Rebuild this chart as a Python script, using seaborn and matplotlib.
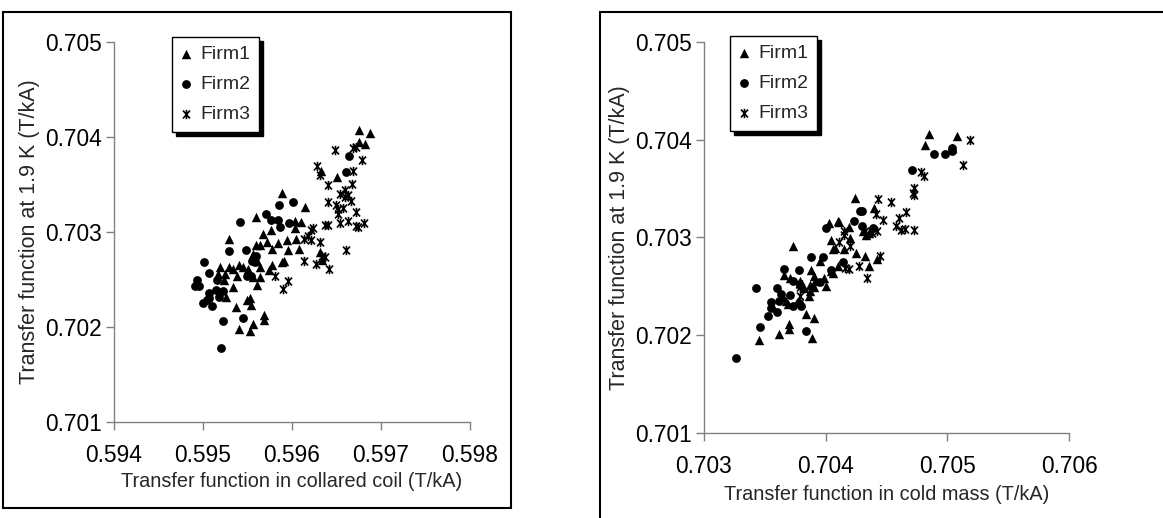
import matplotlib
matplotlib.use('Agg')
import matplotlib.pyplot as plt
from matplotlib.path import Path
from matplotlib.patches import Rectangle
import seaborn as sns
import pandas as pd

sns.set_theme(style="white")
plt.rcParams['font.family'] = ['Liberation Sans', 'DejaVu Sans']

# ==========================================
# 데이터 (왼쪽: collared coil, 오른쪽: cold mass)
# ==========================================
coil_f1_x = [0.59675, 0.59688, 0.59682, 0.59675, 0.59633, 0.59650, 0.59589, 0.59615, 0.59559, 0.59529,
             0.59567, 0.59576, 0.59572, 0.59560, 0.59564, 0.59577, 0.59584, 0.59594, 0.59603, 0.59610,
             0.59603, 0.59605, 0.59608, 0.59596, 0.59591, 0.59589, 0.59577, 0.59574, 0.59564, 0.59561,
             0.59556, 0.59564, 0.59561, 0.59556, 0.59551, 0.59545, 0.59540, 0.59538, 0.59534, 0.59529,
             0.59525, 0.59524, 0.59519, 0.59517, 0.59534, 0.59526, 0.59537, 0.59549, 0.59554, 0.59553,
             0.59569, 0.59569, 0.59556, 0.59553, 0.59540, 0.59631, 0.59634]
coil_f1_y = [0.70407, 0.70404, 0.70393, 0.70395, 0.70364, 0.70358, 0.70341, 0.70326, 0.70316, 0.70293,
             0.70298, 0.70302, 0.70290, 0.70286, 0.70286, 0.70282, 0.70288, 0.70292, 0.70304, 0.70311,
             0.70312, 0.70293, 0.70282, 0.70281, 0.70270, 0.70268, 0.70265, 0.70260, 0.70263, 0.70270,
             0.70277, 0.70253, 0.70244, 0.70253, 0.70261, 0.70263, 0.70265, 0.70254, 0.70261, 0.70263,
             0.70256, 0.70250, 0.70263, 0.70256, 0.70242, 0.70232, 0.70221, 0.70228, 0.70223, 0.70231,
             0.70213, 0.70207, 0.70203, 0.70196, 0.70198, 0.70279, 0.70271]

coil_f2_x = [0.59664, 0.59661, 0.59601, 0.59585, 0.59597, 0.59571, 0.59576, 0.59584, 0.59542, 0.59587,
             0.59529, 0.59548, 0.59555, 0.59559, 0.59558, 0.59549, 0.59554, 0.59501, 0.59507, 0.59516,
             0.59493, 0.59491, 0.59496, 0.59507, 0.59515, 0.59518, 0.59507, 0.59500, 0.59510, 0.59522,
             0.59545, 0.59522, 0.59520, 0.59504]
coil_f2_y = [0.70380, 0.70363, 0.70332, 0.70328, 0.70309, 0.70319, 0.70313, 0.70313, 0.70311, 0.70305,
             0.70280, 0.70281, 0.70269, 0.70275, 0.70268, 0.70254, 0.70254, 0.70268, 0.70257, 0.70249,
             0.70249, 0.70243, 0.70243, 0.70236, 0.70239, 0.70232, 0.70231, 0.70225, 0.70222, 0.70238,
             0.70210, 0.70206, 0.70178, 0.70228]

coil_f3_x = [0.59648, 0.59628, 0.59632, 0.59679, 0.59669, 0.59672, 0.59669, 0.59667, 0.59640, 0.59640,
             0.59654, 0.59660, 0.59660, 0.59649, 0.59652, 0.59657, 0.59652, 0.59654, 0.59663, 0.59672,
             0.59672, 0.59674, 0.59681, 0.59661, 0.59637, 0.59640, 0.59624, 0.59618, 0.59614, 0.59621,
             0.59631, 0.59637, 0.59634, 0.59627, 0.59642, 0.59613, 0.59581, 0.59595, 0.59590, 0.59621,
             0.59666, 0.59663]
coil_f3_y = [0.70386, 0.70369, 0.70360, 0.70376, 0.70388, 0.70390, 0.70364, 0.70351, 0.70349, 0.70332,
             0.70340, 0.70344, 0.70337, 0.70328, 0.70324, 0.70325, 0.70319, 0.70309, 0.70312, 0.70321,
             0.70306, 0.70305, 0.70309, 0.70281, 0.70307, 0.70307, 0.70304, 0.70296, 0.70293, 0.70292,
             0.70289, 0.70274, 0.70275, 0.70266, 0.70261, 0.70270, 0.70254, 0.70248, 0.70240, 0.70302,
             0.70333, 0.70339]

mass_f1_x = [0.70485, 0.70508, 0.70482, 0.70504, 0.70424, 0.70440, 0.70436, 0.70433, 0.70431, 0.70403,
             0.70410, 0.70411, 0.70419, 0.70420, 0.70404, 0.70406, 0.70415, 0.70425, 0.70432, 0.70436,
             0.70442, 0.70373, 0.70410, 0.70406, 0.70404, 0.70395, 0.70388, 0.70390, 0.70399, 0.70400,
             0.70391, 0.70390, 0.70387, 0.70386, 0.70382, 0.70379, 0.70371, 0.70366, 0.70369, 0.70367,
             0.70384, 0.70390, 0.70362, 0.70370, 0.70370, 0.70345, 0.70389, 0.70387, 0.70408, 0.70365]
mass_f1_y = [0.70406, 0.70404, 0.70395, 0.70392, 0.70340, 0.70330, 0.70305, 0.70303, 0.70307, 0.70315,
             0.70317, 0.70316, 0.70311, 0.70299, 0.70297, 0.70288, 0.70288, 0.70284, 0.70281, 0.70271,
             0.70278, 0.70291, 0.70271, 0.70264, 0.70266, 0.70276, 0.70267, 0.70261, 0.70259, 0.70250,
             0.70256, 0.70249, 0.70245, 0.70240, 0.70248, 0.70255, 0.70259, 0.70262, 0.70232, 0.70235,
             0.70222, 0.70218, 0.70201, 0.70206, 0.70212, 0.70195, 0.70197, 0.70251, 0.70289, 0.70239]

mass_f2_x = [0.70471, 0.70489, 0.70498, 0.70504, 0.70504, 0.70428, 0.70430, 0.70423, 0.70430, 0.70439,
             0.70400, 0.70414, 0.70388, 0.70398, 0.70366, 0.70378, 0.70373, 0.70379, 0.70343, 0.70360,
             0.70363, 0.70355, 0.70355, 0.70353, 0.70360, 0.70362, 0.70371, 0.70378, 0.70373, 0.70380,
             0.70346, 0.70384, 0.70326, 0.70395, 0.70404]
mass_f2_y = [0.70369, 0.70385, 0.70385, 0.70389, 0.70392, 0.70327, 0.70327, 0.70317, 0.70312, 0.70310,
             0.70310, 0.70275, 0.70280, 0.70280, 0.70268, 0.70267, 0.70256, 0.70251, 0.70248, 0.70248,
             0.70242, 0.70234, 0.70228, 0.70220, 0.70224, 0.70235, 0.70241, 0.70233, 0.70230, 0.70230,
             0.70208, 0.70204, 0.70177, 0.70254, 0.70267]

mass_f3_x = [0.70519, 0.70513, 0.70478, 0.70481, 0.70473, 0.70473, 0.70472, 0.70454, 0.70466, 0.70460,
             0.70443, 0.70441, 0.70447, 0.70458, 0.70462, 0.70465, 0.70473, 0.70438, 0.70434, 0.70427,
             0.70419, 0.70416, 0.70445, 0.70415, 0.70415, 0.70411, 0.70420, 0.70379, 0.70379, 0.70378,
             0.70432, 0.70433, 0.70442]
mass_f3_y = [0.70400, 0.70374, 0.70367, 0.70363, 0.70351, 0.70343, 0.70346, 0.70336, 0.70326, 0.70320,
             0.70339, 0.70324, 0.70318, 0.70312, 0.70308, 0.70309, 0.70308, 0.70305, 0.70259, 0.70271,
             0.70268, 0.70269, 0.70281, 0.70303, 0.70307, 0.70295, 0.70291, 0.70240, 0.70249, 0.70252,
             0.70307, 0.70303, 0.70307]

firms = ['Firm1', 'Firm2', 'Firm3']
coil_xticks = [0.594, 0.595, 0.596, 0.597, 0.598]
mass_xticks = [0.703, 0.704, 0.705, 0.706]
yticks = [0.701, 0.702, 0.703, 0.704, 0.705]

# 엑셀 스타일 별표 마커 (X + 세로선)
star = Path([(-0.75, -0.85), (0.75, 0.85), (-0.75, 0.85), (0.75, -0.85), (0, -1), (0, 1)],
            [Path.MOVETO, Path.LINETO, Path.MOVETO, Path.LINETO, Path.MOVETO, Path.LINETO])
markers = {'Firm1': '^', 'Firm2': 'o', 'Firm3': star}
sizes = {'Firm1': 46, 'Firm2': 40, 'Firm3': 45}

fig = plt.figure(figsize=(11.63, 5.18), dpi=100)
ax1 = fig.add_axes([114/1163, 1-422/518, 356/1163, 380/518])
ax2 = fig.add_axes([704/1163, 1-433/518, 365/1163, 391/518])

panels = [
    (ax1, [(coil_f1_x, coil_f1_y), (coil_f2_x, coil_f2_y), (coil_f3_x, coil_f3_y)],
     coil_xticks, 'Transfer function in collared coil (T/kA)', (0.163, 1.013), 3.5),
    (ax2, [(mass_f1_x, mass_f1_y), (mass_f2_x, mass_f2_y), (mass_f3_x, mass_f3_y)],
     mass_xticks, 'Transfer function in cold mass (T/kA)', (0.071, 1.015), 5),
]

for ax, series, xt, xlabel, anchor, xpad in panels:
    for firm, (xs, ys) in zip(firms, series):
        df = pd.DataFrame({'x': xs, 'y': ys})
        sns.scatterplot(data=df, x='x', y='y', ax=ax, marker=markers[firm], s=sizes[firm],
                        color='black', edgecolor='black', linewidth=1.2 if firm == 'Firm3' else 0,
                        label=firm)
    ax.set_xlim(xt[0], xt[-1])
    ax.set_ylim(0.701, 0.705)
    ax.set_xticks(xt)
    ax.set_yticks(yticks)
    ax.set_xticklabels([f'{v:.3f}' for v in xt])
    ax.set_yticklabels([f'{v:.3f}' for v in yticks])
    ax.tick_params(bottom=True, left=True, direction='out', length=6, width=1, color='#808080',
                   labelsize=16.4, labelcolor='black')
    ax.tick_params(axis='x', pad=10)
    ax.tick_params(axis='y', pad=3)
    for s in ['top', 'right']:
        ax.spines[s].set_visible(False)
    for s in ['left', 'bottom']:
        ax.spines[s].set_color('#808080')
        ax.spines[s].set_linewidth(1)
    ax.set_xlabel(xlabel, fontsize=14.3, labelpad=xpad)
    ax.set_ylabel('Transfer function at 1.9 K (T/kA)', fontsize=15.5, labelpad=3.5)
    leg = ax.legend(loc='upper left', bbox_to_anchor=anchor, borderaxespad=0, fontsize=14,
                    fancybox=False, framealpha=1, edgecolor='black', handlelength=0.5,
                    handletextpad=0.5, labelspacing=0.62, borderpad=0.45,
                    shadow={'ox': 3, 'oy': -3, 'facecolor': 'black', 'edgecolor': 'black', 'alpha': 1})
    leg.get_frame().set_linewidth(1)

# 패널 테두리
fig.patches.append(Rectangle((3/1163, 1-508/518), 508/1163, 496/518, transform=fig.transFigure,
                             fill=False, edgecolor='black', linewidth=1.5))
fig.patches.append(Rectangle((600/1163, -0.05), 0.5, 1-12/518+0.05, transform=fig.transFigure,
                             fill=False, edgecolor='black', linewidth=1.5))

plt.savefig('out.png', dpi=100)
plt.close()
